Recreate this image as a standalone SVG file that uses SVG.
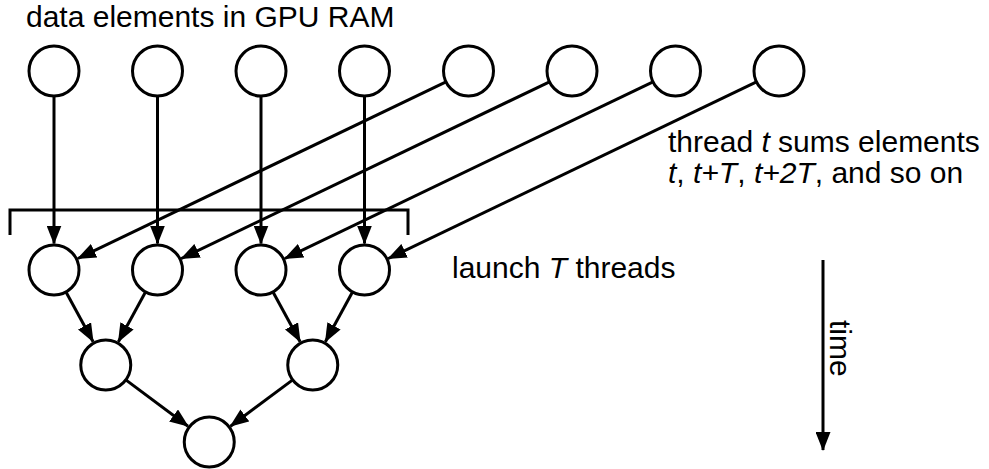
<svg xmlns="http://www.w3.org/2000/svg" width="989" height="469" viewBox="0 0 989 469">
<style>
.n{fill:#fff;stroke:#000;stroke-width:3}
.e{stroke:#000;stroke-width:3;fill:none;marker-end:url(#ah)}
.t{font-family:"Liberation Sans",Arial,sans-serif;font-size:30px;fill:#000}
.i{font-style:italic}
</style>
<defs>
<marker id="ah" markerUnits="userSpaceOnUse" markerWidth="19" markerHeight="15" refX="18" refY="7.5" orient="auto">
<path d="M0,0 L19,7.5 L0,15 z" fill="#000"/>
</marker>
</defs>
<rect width="989" height="469" fill="#fff"/>
<text class="t" x="26" y="27">data elements in GPU RAM</text>
<text class="t" x="668" y="152">thread <tspan class="i">t</tspan> sums elements</text>
<text class="t" x="668" y="183"><tspan class="i">t</tspan>, <tspan class="i">t+T</tspan>, <tspan class="i">t+2T</tspan>, and so on</text>
<text class="t" x="452" y="278">launch <tspan class="i">T</tspan> threads</text>
<text class="t" transform="translate(830,320) rotate(90)">time</text>
<g id="connectors">
<path d="M10,235 V210 H408 V235" stroke="#000" stroke-width="3" fill="none"/>
<line class="e" x1="54" y1="96" x2="54" y2="243.5"/>
<line class="e" x1="157.5" y1="96" x2="157.5" y2="243.5"/>
<line class="e" x1="261" y1="96" x2="261" y2="243.5"/>
<line class="e" x1="364.5" y1="96" x2="364.5" y2="243.5"/>
<line class="e" x1="446" y1="81.8" x2="77.9" y2="258.5"/>
<line class="e" x1="549.5" y1="81.8" x2="181.4" y2="258.5"/>
<line class="e" x1="653" y1="81.8" x2="284.9" y2="258.5"/>
<line class="e" x1="756.5" y1="81.8" x2="388.4" y2="258.5"/>
<line class="e" x1="66" y1="292" x2="93.1" y2="341.7"/>
<line class="e" x1="145.5" y1="292" x2="118.4" y2="341.7"/>
<line class="e" x1="273" y1="292" x2="300.1" y2="341.7"/>
<line class="e" x1="352.5" y1="292" x2="325.4" y2="341.7"/>
<line class="e" x1="125.8" y1="379.9" x2="188" y2="426.2"/>
<line class="e" x1="292.7" y1="379.9" x2="230.5" y2="426.2"/>
<line class="e" x1="823" y1="260" x2="823" y2="450"/>
</g>
<g id="d1"><circle class="n" cx="54" cy="71" r="25"/></g>
<g id="d2"><circle class="n" cx="157.5" cy="71" r="25"/></g>
<g id="d3"><circle class="n" cx="261" cy="71" r="25"/></g>
<g id="d4"><circle class="n" cx="364.5" cy="71" r="25"/></g>
<g id="d5"><circle class="n" cx="468.5" cy="71" r="25"/></g>
<g id="d6"><circle class="n" cx="572" cy="71" r="25"/></g>
<g id="d7"><circle class="n" cx="675.5" cy="71" r="25"/></g>
<g id="d8"><circle class="n" cx="779" cy="71" r="25"/></g>
<g id="t1"><circle class="n" cx="54" cy="270" r="25"/></g>
<g id="t2"><circle class="n" cx="157.5" cy="270" r="25"/></g>
<g id="t3"><circle class="n" cx="261" cy="270" r="25"/></g>
<g id="t4"><circle class="n" cx="364.5" cy="270" r="25"/></g>
<g id="s1"><circle class="n" cx="105.75" cy="365" r="25"/></g>
<g id="s2"><circle class="n" cx="312.75" cy="365" r="25"/></g>
<g id="r"><circle class="n" cx="209.25" cy="442" r="25"/></g>
</svg>
